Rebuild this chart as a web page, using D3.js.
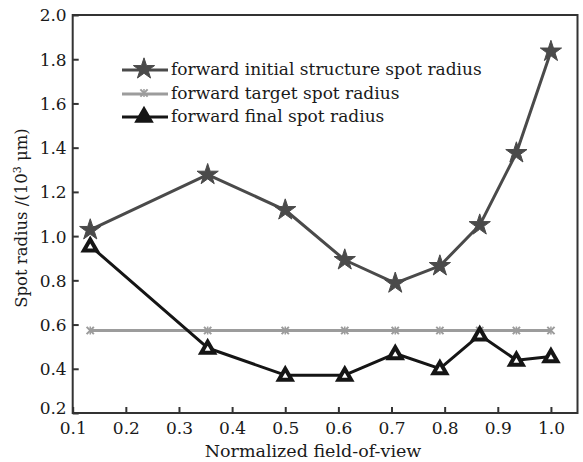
<!DOCTYPE html>
<html>
<head>
<meta charset="utf-8">
<script src="https://cdn.jsdelivr.net/npm/d3@7"></script>
<style>
  html, body { margin: 0; padding: 0; background: #fff; }
  svg { display: block; }
  text { font-family: "DejaVu Serif", "Liberation Serif", serif; fill: #1a1a1a; }
</style>
</head>
<body>
<svg id="chart" width="583" height="462"></svg>
<script>
// Normalized field-of-view sample positions
const fieldOfView = [0.133, 0.354, 0.5, 0.612, 0.707, 0.791, 0.866, 0.935, 1.0];
// Spot radius (10^3 um) for each design stage
const initialSpot = [1.028, 1.278, 1.118, 0.892, 0.787, 0.865, 1.050, 1.376, 1.835];
const targetSpot  = [0.573, 0.573, 0.573, 0.573, 0.573, 0.573, 0.573, 0.573, 0.573];
const finalSpot   = [0.956, 0.494, 0.371, 0.371, 0.469, 0.401, 0.553, 0.439, 0.455];
const seriesNames = ["forward initial structure spot radius", "forward target spot radius", "forward final spot radius"];
const xTicks = [0.1, 0.2, 0.3, 0.4, 0.5, 0.6, 0.7, 0.8, 0.9, 1.0];
const yTicks = [0.2, 0.4, 0.6, 0.8, 1.0, 1.2, 1.4, 1.6, 1.8, 2.0];

const svg = d3.select("#chart");
const plotLeft = 72.7, plotRight = 577.5, plotTop = 15, plotBottom = 413;

const x = d3.scaleLinear().domain([0.1, 1.05]).range([plotLeft, plotRight]);
const y = d3.scaleLinear().domain([0.2, 2.0]).range([plotBottom, plotTop]);

const axisColor = "#333";

// Plot frame
svg.append("rect")
  .attr("x", plotLeft).attr("y", plotTop)
  .attr("width", plotRight - plotLeft).attr("height", plotBottom - plotTop)
  .attr("fill", "none").attr("stroke", axisColor).attr("stroke-width", 2);

// Bottom and left axes with inward ticks
const xAxis = svg.append("g").attr("transform", `translate(0,${plotBottom})`)
  .call(d3.axisBottom(x).tickValues(xTicks).tickFormat(d3.format(".1f")).tickSizeInner(-6).tickSizeOuter(0).tickPadding(9));
const yAxis = svg.append("g").attr("transform", `translate(${plotLeft},0)`)
  .call(d3.axisLeft(y).tickValues(yTicks).tickFormat(d3.format(".1f")).tickSizeInner(-6).tickSizeOuter(0).tickPadding(6));

[xAxis, yAxis].forEach(g => {
  g.select(".domain").remove();
  g.selectAll(".tick line").attr("stroke", axisColor).attr("stroke-width", 2);
  g.selectAll(".tick text").attr("font-size", 17).attr("fill", "#1a1a1a")
    .style("font-family", '"DejaVu Serif", serif');
});
yAxis.selectAll(".tick text").attr("dy", "0.35em");
// keep the bottom 0.2 label clear of the x-axis labels
yAxis.selectAll(".tick").filter(d => d === 0.2).select("text").attr("dy", "0.05em");

// Axis titles
svg.append("text")
  .attr("x", 313).attr("y", 457)
  .attr("text-anchor", "middle").attr("font-size", 17.5)
  .text("Normalized field-of-view");

const yTitle = svg.append("text")
  .attr("transform", `translate(27,${(plotTop + plotBottom) / 2 + 4}) rotate(-90)`)
  .attr("text-anchor", "middle").attr("font-size", 16.5);
yTitle.append("tspan").text("Spot radius /(10");
yTitle.append("tspan").attr("dy", -6).attr("font-size", 11).text("3");
yTitle.append("tspan").attr("dy", 6).text(" μm)");

// Series definitions
const series = [
  { name: seriesNames[0], values: initialSpot, color: "#4a4a4a", marker: "star" },
  { name: seriesNames[1], values: targetSpot,  color: "#9c9c9c", marker: "asterisk" },
  { name: seriesNames[2], values: finalSpot,   color: "#151515", marker: "triangle" }
];

const starPath = d3.symbol().type(d3.symbolStar).size(140)();
const triPath = d3.symbol().type(d3.symbolTriangle).size(70)();
const astPath = d3.symbol().type(d3.symbolTimes).size(36)();

function drawMarker(g, type, color, solid) {
  if (type === "star") {
    g.append("path").attr("d", starPath).attr("fill", color)
      .attr("stroke", color).attr("stroke-width", 1);
  } else if (type === "triangle") {
    g.append("path").attr("d", triPath).attr("fill", solid ? color : "#fff")
      .attr("stroke", color).attr("stroke-width", 4).attr("stroke-linejoin", "miter")
      .attr("transform", "translate(0,1)");
  } else {
    g.append("path").attr("d", astPath).attr("fill", "none")
      .attr("stroke", color).attr("stroke-width", 2);
    g.append("path").attr("d", "M0,-4V4").attr("stroke", color).attr("stroke-width", 1.5);
  }
}

const line = d3.line().x(d => x(d[0])).y(d => y(d[1]));

// draw target first, then final, then initial on top
[1, 2, 0].forEach(i => {
  const s = series[i];
  const pts = fieldOfView.map((f, k) => [f, s.values[k]]);
  svg.append("path").datum(pts)
    .attr("d", line).attr("fill", "none")
    .attr("stroke", s.color).attr("stroke-width", 3).attr("stroke-linejoin", "round");
  pts.forEach(p => {
    const g = svg.append("g").attr("transform", `translate(${x(p[0])},${y(p[1])})`);
    drawMarker(g, s.marker, s.color, false);
  });
});

// Legend
const legend = svg.append("g");
const legendY = [70, 94, 117];
series.forEach((s, i) => {
  const row = legend.append("g").attr("transform", `translate(0,${legendY[i]})`);
  row.append("line").attr("x1", 122).attr("x2", 168).attr("y1", 0).attr("y2", 0)
    .attr("stroke", s.color).attr("stroke-width", 3);
  const m = row.append("g").attr("transform", "translate(144,-1)");
  drawMarker(m, s.marker, s.color, true);
  row.append("text").attr("x", 171).attr("y", 0).attr("dy", "0.32em")
    .attr("font-size", 17).text(s.name);
});
</script>
</body>
</html>
